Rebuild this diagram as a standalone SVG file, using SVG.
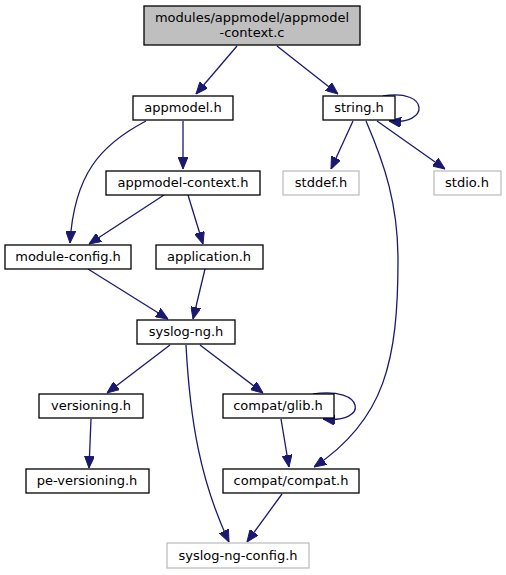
<svg xmlns="http://www.w3.org/2000/svg" width="506" height="575" viewBox="0 0 506 575">
<style>
.n rect{fill:#ffffff;stroke:#000000;stroke-width:1.3}
.g rect{fill:#ffffff;stroke:#bfbfbf;stroke-width:1.3}
.root rect{fill:#bfbfbf;stroke:#000000;stroke-width:1.3}
text{font-family:"DejaVu Sans",sans-serif;font-size:13px;fill:#000000;text-anchor:middle}
#edges path{fill:none;stroke:#191970;stroke-width:1.3;marker-end:url(#arr)}
</style>
<defs>
<marker id="arr" markerUnits="userSpaceOnUse" markerWidth="12" markerHeight="10" viewBox="0 0 12 10" refX="12" refY="5" orient="auto">
<path d="M0,0 L12,5 L0,10 Z" fill="#191970" stroke="#191970"/>
</marker>
</defs>
<rect width="506" height="575" fill="#ffffff"/>
<g id="edges">
<path d="M237,46 L196,94"/>
<path d="M277,46 L338,94"/>
<path d="M146,121 C100,145 74,175 70,243"/>
<path d="M183,121 L183,169"/>
<path d="M164,195 L89,244"/>
<path d="M188,195 L203,244"/>
<path d="M88,269 L168,319"/>
<path d="M205,269 L193,319"/>
<path d="M383,96 C430,88 430,126 389,121"/>
<path d="M353,121 L331,169"/>
<path d="M377,121 L445,169"/>
<path d="M366,121 C385,165 398,205 398,260 C398,360 385,420 314,467"/>
<path d="M170,345 L107,393"/>
<path d="M186,345 C190,420 200,480 229,542"/>
<path d="M200,345 L263,393"/>
<path d="M313,394 C365,386 370,424 323,419"/>
<path d="M91,419 L89,468"/>
<path d="M281,419 L289,467"/>
<path d="M282,494 L247,542"/>
</g>
<g id="root" class="root"><rect x="144" y="6" width="216" height="39"/><text x="252" y="22">modules/appmodel/appmodel</text><text x="252" y="37">-context.c</text></g>
<g id="appmodel_h" class="n"><rect x="133" y="96" width="100" height="24"/><text x="183" y="112">appmodel.h</text></g>
<g id="string_h" class="n"><rect x="323" y="96" width="72" height="24"/><text x="359" y="112">string.h</text></g>
<g id="appmodel_context_h" class="n"><rect x="106" y="171" width="154" height="24"/><text x="183" y="187">appmodel-context.h</text></g>
<g id="stddef_h" class="g"><rect x="283" y="171" width="76" height="24"/><text x="321" y="187">stddef.h</text></g>
<g id="stdio_h" class="g"><rect x="434" y="171" width="67" height="24"/><text x="467" y="187">stdio.h</text></g>
<g id="module_config_h" class="n"><rect x="5" y="245" width="126" height="24"/><text x="68" y="261">module-config.h</text></g>
<g id="application_h" class="n"><rect x="156" y="245" width="107" height="24"/><text x="209" y="261">application.h</text></g>
<g id="syslog_ng_h" class="n"><rect x="137" y="320" width="98" height="24"/><text x="186" y="336">syslog-ng.h</text></g>
<g id="versioning_h" class="n"><rect x="39" y="394" width="104" height="24"/><text x="91" y="410">versioning.h</text></g>
<g id="compat_glib_h" class="n"><rect x="223" y="394" width="111" height="24"/><text x="278" y="410">compat/glib.h</text></g>
<g id="pe_versioning_h" class="n"><rect x="26" y="469" width="123" height="24"/><text x="87" y="485">pe-versioning.h</text></g>
<g id="compat_compat_h" class="n"><rect x="223" y="469" width="136" height="24"/><text x="291" y="485">compat/compat.h</text></g>
<g id="syslog_ng_config_h" class="g"><rect x="167" y="543" width="142" height="25"/><text x="238" y="560">syslog-ng-config.h</text></g>
</svg>
